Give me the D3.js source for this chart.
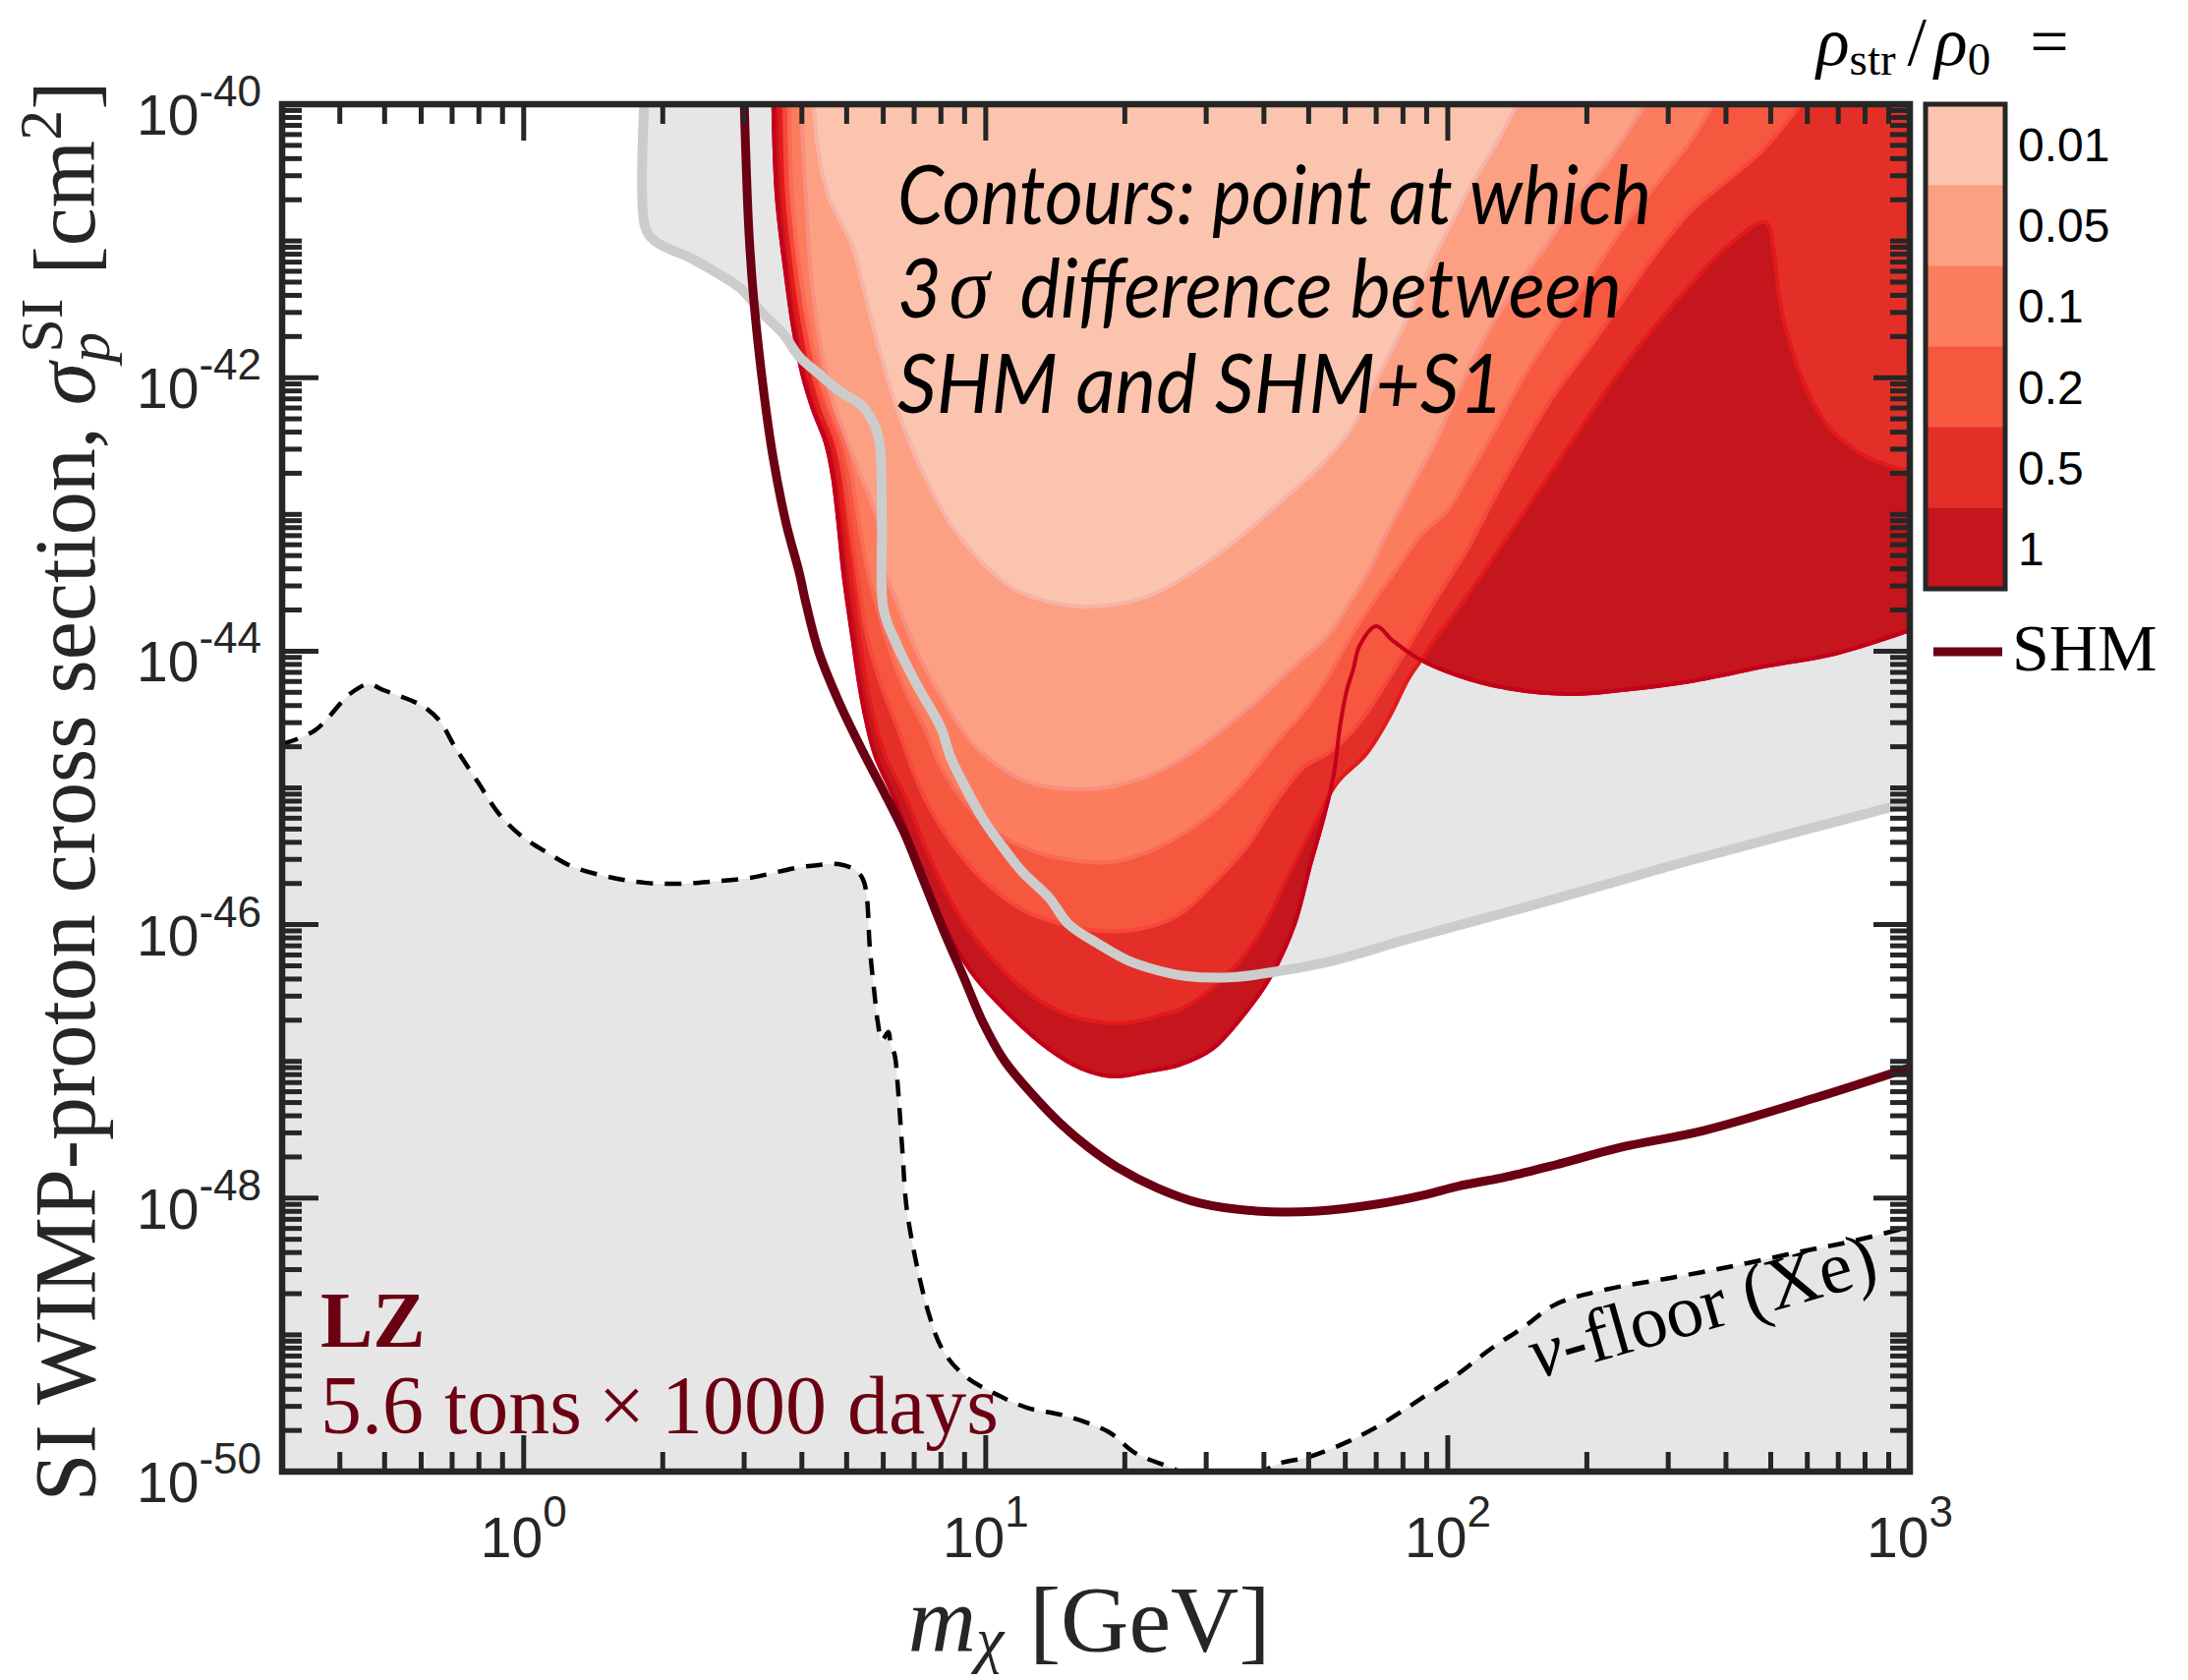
<!DOCTYPE html>
<html>
<head>
<meta charset="utf-8">
<script src="https://cdn.jsdelivr.net/npm/d3@7"></script>
<style>
  html, body { margin: 0; padding: 0; background: #fff; }
  svg { display: block; }
</style>
</head>
<body>
<svg id="chart" width="2226" height="1709"></svg>
<script>
// ---------- data: WIMP mass m [GeV], SI WIMP-proton cross section [cm^2] ----------

// Xenon neutrino floor
const nuFloor = [
  [0.3,2.09e-45],[0.353,2.63e-45],[0.423,4.94e-45],[0.462,5.73e-45],[0.497,5.19e-45],
  [0.567,4.40e-45],[0.604,3.98e-45],[0.657,3.11e-45],[0.710,1.99e-45],[0.799,1.08e-45],
  [0.881,6.56e-46],[0.986,4.48e-46],[1.13,3.33e-46],[1.28,2.64e-46],[1.56,2.20e-46],
  [1.84,2.02e-46],[2.16,1.99e-46],[2.54,2.06e-46],[3.09,2.20e-46],[3.89,2.60e-46],
  [4.35,2.73e-46],[4.80,2.77e-46],[5.22,2.51e-46],[5.43,2.13e-46],[5.53,1.58e-46],
  [5.61,6.90e-47],[5.75,3.02e-47],[5.84,1.93e-47],[5.96,1.43e-47],[6.16,1.64e-47],
  [6.22,1.34e-47],[6.35,1.12e-47],[6.44,7.14e-48],[6.60,2.24e-48],[6.77,7.65e-49],
  [7.50,1.49e-49],[8.11,7.53e-50],[9.03,4.98e-50],[10.4,3.76e-50],[12.3,2.93e-50],
  [14.8,2.57e-50],[18.5,1.94e-50],[20.9,1.39e-50],[25.1,1.07e-50],[30.4,8.34e-51],
  [37.0,8.76e-51],[42.9,1.14e-50],[50.1,1.28e-50],[60.4,1.64e-50],[70.0,2.11e-50],
  [89.4,3.58e-50],[105,5.15e-50],[124,7.92e-50],[146,1.14e-49],[171,1.67e-49],
  [219,2.14e-49],[304,2.61e-49],[423,3.23e-49],[584,4.08e-49],[745,4.81e-49],[1000,6.17e-49]
];

// existing exclusion limit (grey band boundary)
const currentLimit = [
  [1.83,1.3e-40],[1.83,1.28e-41],[1.92,1.0e-41],[2.31,7.43e-42],[2.67,5.61e-42],
  [2.94,4.52e-42],[3.31,2.89e-42],[3.65,2.08e-42],[3.95,1.42e-42],[4.35,1.07e-42],
  [4.80,8.09e-43],[5.40,6.21e-43],[5.75,4.46e-43],[5.90,3.20e-43],[5.96,8.52e-44],
  [6.01,2.02e-44],[6.44,1.09e-44],[7.10,5.64e-45],[7.99,2.77e-45],[8.39,1.68e-45],
  [8.94,1.08e-45],[9.86,5.93e-46],[10.7,3.99e-46],[12.0,2.43e-46],[13.7,1.58e-46],
  [15.1,1.01e-46],[17.5,7.25e-47],[20.3,5.47e-47],[23.5,4.64e-47],[27.2,4.20e-47],
  [34.4,4.13e-47],[42.9,4.56e-47],[56.7,5.47e-47],[82.3,7.88e-47],[134,1.23e-46],
  [219,1.96e-46],[336,2.96e-46],[1000,7.86e-46]
];

// LZ projected limit, Standard Halo Model
const shmLimit = [
  [2.995,1.3e-40],[3.07,1.22e-41],[3.15,3.59e-42],[3.31,7.70e-43],[3.47,2.54e-43],
  [3.70,8.52e-44],[3.95,3.72e-44],[4.08,2.26e-44],[4.35,9.90e-45],[4.80,4.33e-45],
  [5.40,1.89e-45],[6.04,9.13e-46],[6.66,4.71e-46],[7.35,2.06e-46],[8.11,8.99e-47],
  [8.94,4.20e-47],[9.86,1.93e-47],[10.98,1.01e-47],[12.66,5.67e-48],[14.52,3.51e-48],
  [16.66,2.36e-48],[19.2,1.69e-48],[23.6,1.18e-48],[29.1,9.18e-49],[38.5,8.04e-49],
  [52.2,8.04e-49],[70.0,9.03e-49],[89.4,1.06e-48],[105,1.22e-48],[134,1.43e-48],
  [171,1.75e-48],[238,2.36e-48],[358,3.12e-48],[622,5.39e-48],[1000,9.01e-48]
];

// 3-sigma SHM vs SHM+S1 contours, one per stream fraction rho_str/rho_0
const contourRho1 = [
  [3.47,1e-40],[3.53,2.11e-41],[3.70,5.34e-42],[3.83,2.33e-42],[4.02,1.02e-42],
  [4.23,5.81e-43],[4.50,3.37e-43],[4.66,1.95e-43],[4.80,8.52e-44],[4.92,3.72e-44],
  [5.14,1.29e-44],[5.40,4.33e-45],[5.75,1.77e-45],[6.35,8.27e-46],[7.10,3.06e-46],
  [8.11,1.01e-46],[9.25,4.64e-47],[11.3,2.17e-47],[13.7,1.23e-47],[16.1,8.86e-48],
  [18.9,7.76e-48],[22.3,8.43e-48],[26.3,9.47e-48],[30.9,1.23e-47],[36.5,2.28e-47],
  [41.4,4.20e-47],[46.6,1.01e-46],[50.4,2.73e-46],[54.0,6.24e-46],[56.7,1.27e-45],
  [58.4,2.77e-45],[60.4,5.11e-45],[62.5,7.47e-45],[64.4,1.09e-44],[70.0,1.52e-44],
  [76.1,1.19e-44],[86.4,8.82e-45],[105,6.65e-45],[134,5.37e-45],[186,4.86e-45],
  [238,5.19e-45],[336,6.03e-45],[496,7.85e-45],[689,9.58e-45],[1000,1.42e-44]
];
const contourRho05 = [
  [3.58,1e-40],[3.65,2.11e-41],[3.81,5.34e-42],[3.95,2.33e-42],[4.14,1.02e-42],
  [4.35,5.81e-43],[4.64,3.37e-43],[4.80,1.95e-43],[4.94,8.52e-44],[5.09,3.72e-44],
  [5.32,1.29e-44],[5.61,4.33e-45],[6.04,1.77e-45],[6.73,8.27e-46],[7.57,3.06e-46],
  [8.72,1.19e-46],[10.1,6.15e-47],[12.0,3.44e-47],[14.6,2.28e-47],[17.8,1.93e-47],
  [20.6,1.93e-47],[23.8,2.17e-47],[26.3,2.39e-47],[28.6,2.82e-47],[33.6,4.41e-47],
  [39.5,8.99e-47],[45.0,2.20e-46],[50.4,4.71e-46],[57.5,1.08e-45],[66.6,1.77e-45],
  [74.6,3.27e-45],[82.3,6.33e-45],[87.7,8.68e-45],[93.9,1.23e-44],[105,2.02e-44],
  [121,4.04e-44],[143,9.25e-44],[170,2.19e-43],[201,5.09e-43],[238,1.16e-42],
  [283,2.45e-42],[336,4.83e-42],[402,9.07e-42],[487,1.37e-41],[506,9.07e-42],
  [524,3.47e-42],[561,1.44e-42],[613,6.86e-43],[679,4.10e-43],[810,2.62e-43],[1000,2.08e-43]
];
const contourRho02 = [
  [3.67,1e-40],[3.72,2.11e-41],[3.89,5.34e-42],[4.04,2.33e-42],[4.25,1.02e-42],
  [4.46,5.81e-43],[4.75,3.37e-43],[4.92,1.95e-43],[5.09,8.52e-44],[5.27,3.72e-44],
  [5.53,1.29e-44],[5.96,5.37e-45],[6.44,2.77e-45],[6.90,1.43e-45],[7.53,7.36e-46],
  [8.51,3.80e-46],[9.86,2.13e-46],[12.0,1.29e-46],[14.6,1.01e-46],[17.8,8.99e-47],
  [21.6,9.29e-47],[26.3,1.19e-46],[30.9,1.96e-46],[36.5,3.61e-46],[42.9,8.27e-46],
  [48.9,1.43e-45],[54.8,1.77e-45],[59.5,2.23e-45],[65.7,3.27e-45],[72.4,5.37e-45],
  [79.9,9.27e-45],[86.4,1.45e-44],[97.1,2.81e-44],[110,5.44e-44],[126,1.31e-43],
  [146,3.20e-43],[171,7.70e-43],[203,1.68e-42],[238,3.59e-42],[280,7.81e-42],
  [336,1.65e-41],[402,2.75e-41],[480,4.59e-41],[581,1e-40]
];
const contourRho01 = [
  [3.76,1e-40],[3.81,2.11e-41],[3.98,5.34e-42],[4.14,2.33e-42],[4.37,1.02e-42],
  [4.62,5.81e-43],[4.92,3.37e-43],[5.12,1.95e-43],[5.32,8.52e-44],[5.56,3.72e-44],
  [5.84,2.02e-44],[6.19,1.04e-44],[6.66,5.37e-45],[7.35,2.77e-45],[7.99,1.43e-45],
  [8.94,8.00e-46],[10.4,4.87e-46],[12.6,3.49e-46],[15.3,2.96e-46],[18.6,2.87e-46],
  [22.1,3.33e-46],[26.3,4.48e-46],[30.9,6.56e-46],[36.5,1.15e-45],[42.9,2.23e-45],
  [48.9,3.67e-45],[54.8,6.33e-45],[61.3,1.23e-44],[68.3,2.19e-44],[77.2,3.91e-44],
  [87.2,6.98e-44],[99.6,1.06e-43],[112,2.05e-43],[128,4.46e-43],[146,1.02e-42],
  [171,2.33e-42],[203,5.34e-42],[238,1.22e-41],[280,2.49e-41],[336,5.42e-41],[375,1e-40]
];
const contourRho005 = [
  [3.98,1e-40],[4.08,2.11e-41],[4.23,4.03e-42],[4.62,7.70e-43],[5.22,2.42e-43],
  [5.84,8.95e-44],[6.04,3.91e-44],[6.35,2.50e-44],[7.10,9.90e-45],[8.11,4.33e-45],
  [9.25,2.23e-45],[10.7,1.43e-45],[12.6,1.08e-45],[16.1,9.76e-46],[18.9,1.03e-45],
  [22.3,1.21e-45],[26.3,1.60e-45],[36.5,3.67e-45],[46.6,7.85e-45],[54.8,1.29e-44],
  [61.3,2.26e-44],[67.6,3.91e-44],[72.4,6.43e-44],[82.3,1.47e-43],[93.9,3.37e-43],
  [105,7.70e-43],[118,1.76e-42],[137,4.03e-42],[163,9.22e-42],[186,1.79e-41],
  [219,3.64e-41],[246,6.39e-41],[267,1e-40]
];
const contourRho001 = [
  [4.25,1e-40],[4.33,4.83e-41],[4.57,2.11e-41],[5.14,9.22e-42],[5.48,4.03e-42],
  [5.84,1.76e-42],[6.44,5.81e-43],[7.35,1.95e-43],[8.39,8.52e-44],[9.86,4.39e-44],
  [11.6,2.81e-44],[13.7,2.30e-44],[16.1,2.12e-44],[18.9,2.19e-44],[22.3,2.50e-44],
  [26.3,3.31e-44],[34.1,6.12e-44],[42.9,1.19e-43],[54.0,2.42e-43],[62.5,4.46e-43],
  [70.0,9.55e-43],[79.9,2.33e-42],[88.1,5.00e-42],[98.6,1.09e-41],[114,2.80e-41],
  [126,4.83e-41],[141,1e-40]
];

// colour bar levels (top to bottom) and their colours
const rhoLevels  = ["0.01", "0.05", "0.1", "0.2", "0.5", "1"];
const rhoColors  = ["#fbc4ae", "#fba083", "#fb7d5d", "#f5573f", "#e32f27", "#c4161c"];
const rhoEdges   = ["#f8b3a9", "#f98f80", "#fb6c58", "#f7463a", "#e31a1c", "#c8001a"];
const rhoContours = [contourRho001, contourRho005, contourRho01, contourRho02, contourRho05, contourRho1];

// axis tick labels (powers of ten)
const xTickExponents = [0, 1, 2, 3];
const yTickExponents = [-40, -42, -44, -46, -48, -50];

// ---------- layout ----------
const plot = { left: 287, right: 1943, top: 106, bottom: 1497 };
const x = d3.scaleLog().domain([0.3, 1000]).range([plot.left, plot.right]);
const y = d3.scaleLog().domain([1e-50, 1e-40]).range([plot.bottom, plot.top]);

const INK = "#262626";
const MAROON = "#6b0012";
const SERIF = "'Liberation Serif', 'Times New Roman', serif";
const SANS = "'Liberation Sans', Arial, Helvetica, sans-serif";

const svg = d3.select("#chart");
svg.append("rect").attr("width", 2226).attr("height", 1709).attr("fill", "#fff");

svg.append("defs").append("clipPath").attr("id", "plotClip")
  .append("rect")
  .attr("x", plot.left).attr("y", plot.top)
  .attr("width", plot.right - plot.left).attr("height", plot.bottom - plot.top);

const body = svg.append("g").attr("clip-path", "url(#plotClip)");

const smooth = d3.line()
  .x(d => x(d[0])).y(d => y(d[1]))
  .curve(d3.curveCatmullRom.alpha(0.5));

// neutrino floor region (filled below the dashed curve)
body.append("path")
  .attr("d", smooth(nuFloor) + `L${x(1000)},${y(1e-51)}L${x(0.3)},${y(1e-51)}Z`)
  .attr("fill", "#e6e6e6");

// excluded region above the current limit
body.append("path")
  .attr("d", smooth(currentLimit) + `L${x(1000)},${y(1.3e-40)}Z`)
  .attr("fill", "#e6e6e6");

// stream-fraction contours, largest fraction first so smaller ones sit on top
[5, 4, 3, 2, 1, 0].forEach(i => {
  const pts = rhoContours[i];
  const last = pts[pts.length - 1];
  let d = smooth(pts);
  if (last[0] >= 1000 && last[1] < 1e-40) d += `L${x(1000)},${y(1e-40)}`;
  d += "Z";
  body.append("path")
    .attr("d", d)
    .attr("fill", rhoColors[i])
    .attr("stroke", rhoEdges[i])
    .attr("stroke-width", 4)
    .attr("stroke-linejoin", "round");
});

// outline of the rho = 1 contour drawn over the lighter fills
body.append("path")
  .attr("d", smooth(contourRho1))
  .attr("fill", "none")
  .attr("stroke", "#c4001a")
  .attr("stroke-width", 4)
  .attr("stroke-linejoin", "round");

// current limit line
body.append("path")
  .attr("d", smooth(currentLimit))
  .attr("fill", "none")
  .attr("stroke", "#cccccc")
  .attr("stroke-width", 10)
  .attr("stroke-linejoin", "round");

// SHM limit line
body.append("path")
  .attr("d", smooth(shmLimit))
  .attr("fill", "none")
  .attr("stroke", MAROON)
  .attr("stroke-width", 9)
  .attr("stroke-linejoin", "round");

// neutrino floor dashed curve
body.append("path")
  .attr("d", smooth(nuFloor))
  .attr("fill", "none")
  .attr("stroke", "#000")
  .attr("stroke-width", 4.5)
  .attr("stroke-dasharray", "17,12");

// ---------- text inside the plot ----------
const note = svg.append("g")
  .attr("font-family", "Lato, 'Open Sans', sans-serif")
  .attr("font-style", "italic")
  .attr("font-size", 84)
  .attr("fill", "#000");
note.append("text").attr("x", 913).attr("y", 228)
  .attr("textLength", 767).attr("lengthAdjust", "spacingAndGlyphs")
  .text("Contours: point at which");
const l2 = note.append("text").attr("x", 913).attr("y", 323)
  .attr("textLength", 737).attr("lengthAdjust", "spacingAndGlyphs");
l2.append("tspan").text("3");
l2.append("tspan").attr("font-family", SERIF).attr("font-size", 90).attr("dx", 8).text("σ");
l2.append("tspan").attr("dx", 34).text("difference between");
note.append("text").attr("x", 913).attr("y", 420)
  .attr("textLength", 617).attr("lengthAdjust", "spacingAndGlyphs")
  .text("SHM and SHM+S1");

svg.append("text")
  .attr("x", 326).attr("y", 1370)
  .attr("font-family", SERIF).attr("font-weight", "bold").attr("font-size", 80)
  .attr("fill", MAROON)
  .text("LZ");
svg.append("text")
  .attr("x", 326).attr("y", 1458)
  .attr("font-family", SERIF).attr("font-size", 84)
  .attr("fill", MAROON)
  .text("5.6 tons\u2009×\u20091000 days");

const nuLabel = svg.append("text")
  .attr("transform", "translate(1563,1403) rotate(-16)")
  .attr("font-family", SERIF).attr("font-size", 76).attr("fill", "#000");
nuLabel.append("tspan").attr("font-style", "italic").text("ν");
nuLabel.append("tspan").text("-floor (Xe)");

// ---------- axes: ticks on all four sides, pointing inward ----------
const xTicks = [];
for (let e = -1; e <= 2; e++) for (let k = 1; k <= 9; k++) {
  const v = k * Math.pow(10, e);
  if (v >= 0.3 && v <= 1000) xTicks.push({ v, major: k === 1 });
}
xTicks.push({ v: 1000, major: true });

const yTicks = [];
for (let e = -50; e <= -41; e++) for (let k = 1; k <= 9; k++) {
  yTicks.push({ v: k * Math.pow(10, e), major: k === 1 && e % 2 === 0 });
}
yTicks.push({ v: 1e-40, major: true });

const MINOR = 20, MAJOR = 37;
const ticks = svg.append("g").attr("stroke", INK).attr("stroke-width", 5);
ticks.selectAll(".xb").data(xTicks).join("line")
  .attr("x1", d => x(d.v)).attr("x2", d => x(d.v))
  .attr("y1", plot.bottom).attr("y2", d => plot.bottom - (d.major ? MAJOR : MINOR));
ticks.selectAll(".xt").data(xTicks).join("line")
  .attr("x1", d => x(d.v)).attr("x2", d => x(d.v))
  .attr("y1", plot.top).attr("y2", d => plot.top + (d.major ? MAJOR : MINOR));
ticks.selectAll(".yl").data(yTicks).join("line")
  .attr("y1", d => y(d.v)).attr("y2", d => y(d.v))
  .attr("x1", plot.left).attr("x2", d => plot.left + (d.major ? MAJOR : MINOR));
ticks.selectAll(".yr").data(yTicks).join("line")
  .attr("y1", d => y(d.v)).attr("y2", d => y(d.v))
  .attr("x1", plot.right).attr("x2", d => plot.right - (d.major ? MAJOR : MINOR));

svg.append("rect")
  .attr("x", plot.left).attr("y", plot.top)
  .attr("width", plot.right - plot.left).attr("height", plot.bottom - plot.top)
  .attr("fill", "none").attr("stroke", INK).attr("stroke-width", 6.5);

// tick labels
xTickExponents.forEach(e => {
  const t = svg.append("text")
    .attr("x", x(Math.pow(10, e))).attr("y", 1584)
    .attr("text-anchor", "middle")
    .attr("font-family", SANS).attr("font-size", 57).attr("fill", INK);
  t.append("tspan").text("10");
  t.append("tspan").attr("font-size", 44).attr("dy", -31).text(String(e));
});
yTickExponents.forEach(e => {
  const t = svg.append("text")
    .attr("x", 266).attr("y", y(Math.pow(10, e)) + 31)
    .attr("text-anchor", "end")
    .attr("font-family", SANS).attr("font-size", 57).attr("fill", INK);
  t.append("tspan").text("10");
  t.append("tspan").attr("font-size", 44).attr("dy", -29).text(String(e));
});

// axis titles
const xTitle = svg.append("text")
  .attr("x", 1108).attr("y", 1680)
  .attr("text-anchor", "middle")
  .attr("font-family", SERIF).attr("font-size", 96).attr("fill", INK);
xTitle.append("tspan").attr("font-style", "italic").text("m");
xTitle.append("tspan").attr("font-style", "italic").attr("font-size", 64).attr("dy", 9).text("χ");
xTitle.append("tspan").attr("dy", -9).attr("dx", 26).text("[GeV]");

const yTitle = svg.append("text")
  .attr("transform", "translate(96,805) rotate(-90)")
  .attr("text-anchor", "middle")
  .attr("font-family", SERIF).attr("font-size", 88).attr("fill", INK);
yTitle.append("tspan").text("SI WIMP-proton cross section, ");
yTitle.append("tspan").attr("font-style", "italic").text("σ");
yTitle.append("tspan").attr("font-style", "italic").attr("font-size", 62).attr("dy", 15).text("p");
yTitle.append("tspan").attr("font-size", 62).attr("dy", -48).attr("dx", -21).text("SI");
yTitle.append("tspan").attr("dy", 33).attr("dx", 24).text("[cm");
yTitle.append("tspan").attr("font-size", 62).attr("dy", -34).text("2");
yTitle.append("tspan").attr("dy", 34).text("]");

// ---------- colour bar ----------
const cbX = 1959, cbW = 81;
const cb = d3.scaleBand().domain(rhoLevels).range([106, 599]);
svg.append("g").selectAll("rect").data(rhoLevels).join("rect")
  .attr("x", cbX).attr("y", d => cb(d))
  .attr("width", cbW).attr("height", cb.bandwidth() + 0.5)
  .attr("fill", (d, i) => rhoColors[i]);
svg.append("rect")
  .attr("x", cbX).attr("y", 106).attr("width", cbW).attr("height", 493)
  .attr("fill", "none").attr("stroke", INK).attr("stroke-width", 5);
svg.append("g").selectAll("text").data(rhoLevels).join("text")
  .attr("x", 2053).attr("y", d => cb(d) + cb.bandwidth() / 2 + 17)
  .attr("font-family", SANS).attr("font-size", 48).attr("fill", "#000")
  .text(d => d);

const cbTitle = svg.append("text")
  .attr("x", 1848).attr("y", 66)
  .attr("font-family", SERIF).attr("font-size", 70).attr("fill", "#000");
cbTitle.append("tspan").attr("font-style", "italic").text("ρ");
cbTitle.append("tspan").attr("font-size", 47).attr("dy", 10).text("str");
cbTitle.append("tspan").attr("dy", -10).attr("dx", 12).text("/");
cbTitle.append("tspan").attr("font-style", "italic").attr("dx", 8).text("ρ");
cbTitle.append("tspan").attr("font-size", 47).attr("dy", 10).text("0");
cbTitle.append("tspan").attr("dy", -10).attr("dx", 40).text("=");

// legend entry for the SHM line
svg.append("line")
  .attr("x1", 1967).attr("x2", 2037).attr("y1", 663).attr("y2", 663)
  .attr("stroke", MAROON).attr("stroke-width", 9);
svg.append("text")
  .attr("x", 2047).attr("y", 682)
  .attr("font-family", SERIF).attr("font-size", 68).attr("fill", "#000")
  .text("SHM");
</script>
</body>
</html>
